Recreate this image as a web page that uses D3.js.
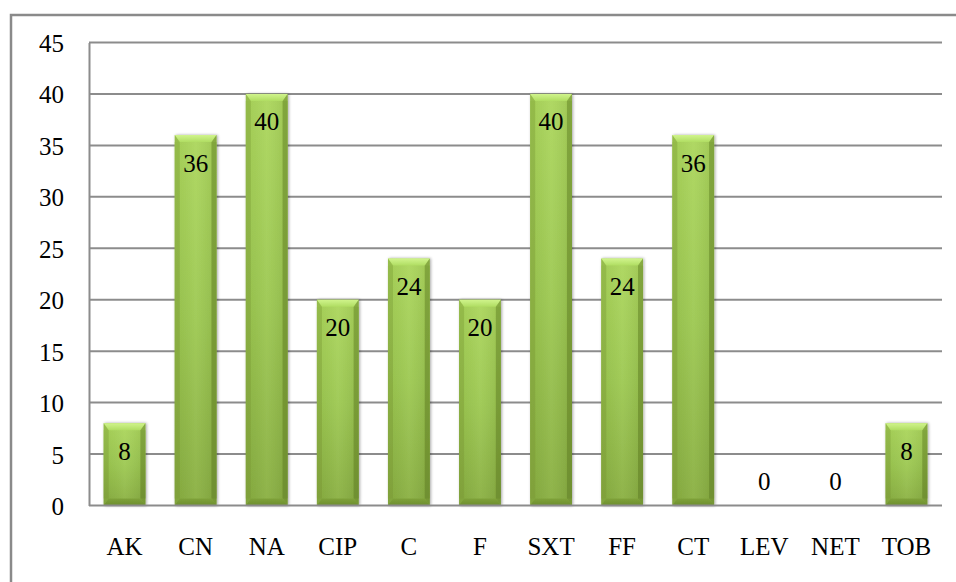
<!DOCTYPE html>
<html>
<head>
<meta charset="utf-8">
<script src="https://cdn.jsdelivr.net/npm/d3@7"></script>
<style>
  html, body { margin: 0; padding: 0; background: #ffffff; }
  svg { display: block; }
  svg text { font-family: "Liberation Serif", "Times New Roman", serif !important; fill: #000; }
</style>
</head>
<body>
<svg id="chart" width="956" height="582"></svg>
<script>
// Category codes along the horizontal axis
const categories = ["AK", "CN", "NA", "CIP", "C", "F", "SXT", "FF", "CT", "LEV", "NET", "TOB"];
// Bar values (also printed inside each bar)
const values = [8, 36, 40, 20, 24, 20, 40, 24, 36, 0, 0, 8];
// Vertical axis ticks
const yTicks = [0, 5, 10, 15, 20, 25, 30, 35, 40, 45];

const FONT = "'Liberation Serif', 'Times New Roman', serif";
const svg = d3.select("#chart");
const plot = { left: 89, right: 942, top: 42.5, bottom: 505.5 };

const x = d3.scaleBand()
  .domain(categories)
  .range([plot.left, plot.right])
  .paddingInner(0.412)
  .paddingOuter(0.206);

const y = d3.scaleLinear()
  .domain([0, 45])
  .range([plot.bottom, plot.top]);

// Gradients for the bevelled bars
const defs = svg.append("defs");
function vGrad(id, stops) {
  const g = defs.append("linearGradient").attr("id", id)
    .attr("x1", 0).attr("y1", 0).attr("x2", 0).attr("y2", 1);
  stops.forEach(([o, c]) => g.append("stop").attr("offset", o).attr("stop-color", c));
}
function hGrad(id, stops) {
  const g = defs.append("linearGradient").attr("id", id)
    .attr("x1", 0).attr("y1", 0).attr("x2", 1).attr("y2", 0);
  stops.forEach(([o, c]) => g.append("stop").attr("offset", o).attr("stop-color", c));
}
vGrad("body", [[0, "#abd65b"], [0.5, "#9cc850"], [1, "#88ae40"]]);
hGrad("bodyShade", [[0, "rgba(0,0,0,0.04)"], [0.5, "rgba(255,255,255,0.06)"], [1, "rgba(0,0,0,0.08)"]]);
vGrad("topBevel", [[0, "#d0f48c"], [1, "#b0dd62"]]);
vGrad("bottomBevel", [[0, "#7fa23a"], [1, "#6d8e2e"]]);
vGrad("leftBevel", [[0, "#9cc750"], [1, "#7f9f39"]]);
vGrad("rightBevel", [[0, "#8fb846"], [1, "#6f8f30"]]);

const shadow = defs.append("filter").attr("id", "barShadow")
  .attr("x", "-20%").attr("y", "-5%").attr("width", "140%").attr("height", "110%");
shadow.append("feGaussianBlur").attr("in", "SourceAlpha").attr("stdDeviation", 1.6).attr("result", "b");
shadow.append("feOffset").attr("in", "b").attr("dx", 1).attr("dy", 0).attr("result", "o");
shadow.append("feComponentTransfer").attr("in", "o").attr("result", "s")
  .append("feFuncA").attr("type", "linear").attr("slope", 0.35);
const merge = shadow.append("feMerge");
merge.append("feMergeNode").attr("in", "s");
merge.append("feMergeNode").attr("in", "SourceGraphic");

// Outer chart frame (runs past the right and bottom edges)
svg.append("rect")
  .attr("x", 11).attr("y", 15)
  .attr("width", 980).attr("height", 620)
  .attr("fill", "none")
  .attr("stroke", "#8a8a8a")
  .attr("stroke-width", 2.5);

// Horizontal gridlines
svg.append("g")
  .selectAll("line")
  .data(yTicks.filter(t => t > 0))
  .join("line")
  .attr("x1", plot.left).attr("x2", plot.right)
  .attr("y1", d => y(d)).attr("y2", d => y(d))
  .attr("stroke", "#8c8c8c")
  .attr("stroke-width", 2);

// Y axis line and tick labels
const yAxis = d3.axisLeft(y).tickValues(yTicks).tickSize(0).tickPadding(25);
const yg = svg.append("g").attr("transform", `translate(${plot.left},0)`).call(yAxis)
  .attr("font-family", FONT).attr("font-size", 25);
yg.select(".domain").attr("stroke", "#8c8c8c").attr("stroke-width", 2);
yg.selectAll("text")
  .attr("font-size", 25)
  .attr("font-family", FONT)
  .attr("dy", "0.36em");

// Bars
const sx = 5, bv = 7;
const bars = svg.append("g").selectAll("g.bar")
  .data(categories.map((c, i) => ({ c, v: values[i] })).filter(d => d.v > 0))
  .join("g")
  .attr("class", "bar")
  .attr("filter", "url(#barShadow)");

bars.each(function(d) {
  const g = d3.select(this);
  const x0 = x(d.c), x1 = x0 + x.bandwidth();
  const yt = y(d.v), yb = y(0);
  const pts = a => a.map(p => p.join(",")).join(" ");
  g.append("rect").attr("x", x0).attr("y", yt).attr("width", x1 - x0).attr("height", yb - yt)
    .attr("fill", "url(#body)");
  g.append("rect").attr("x", x0).attr("y", yt).attr("width", x1 - x0).attr("height", yb - yt)
    .attr("fill", "url(#bodyShade)");
  g.append("polygon").attr("points", pts([[x0, yt + bv], [x0 + sx, yt + bv], [x0 + sx, yb - bv], [x0, yb - bv]]))
    .attr("fill", "url(#leftBevel)").attr("opacity", 0.55);
  g.append("polygon").attr("points", pts([[x1, yt + bv], [x1 - sx, yt + bv], [x1 - sx, yb - bv], [x1, yb - bv]]))
    .attr("fill", "url(#rightBevel)").attr("opacity", 0.7);
  g.append("polygon").attr("points", pts([[x0, yt], [x1, yt], [x1 - sx, yt + bv], [x0 + sx, yt + bv]]))
    .attr("fill", "url(#topBevel)");
  g.append("polygon").attr("points", pts([[x0, yt], [x0 + sx, yt + bv], [x0 + sx, yb - bv], [x0, yb]]))
    .attr("fill", "#7f9f3a").attr("opacity", 0.35);
  g.append("polygon").attr("points", pts([[x1, yt], [x1 - sx, yt + bv], [x1 - sx, yb - bv], [x1, yb]]))
    .attr("fill", "#6a8a2c").attr("opacity", 0.45);
  g.append("polygon").attr("points", pts([[x0, yb], [x1, yb], [x1 - sx, yb - bv], [x0 + sx, yb - bv]]))
    .attr("fill", "url(#bottomBevel)");
});

// Baseline (zero axis)
svg.append("line")
  .attr("x1", plot.left).attr("x2", plot.right)
  .attr("y1", y(0)).attr("y2", y(0))
  .attr("stroke", "#8c8c8c").attr("stroke-width", 2);

// Value labels inside the top of each bar (above the baseline for zeros)
svg.append("g").attr("font-family", FONT).selectAll("text")
  .data(categories.map((c, i) => ({ c, v: values[i] })))
  .join("text")
  .attr("x", d => x(d.c) + x.bandwidth() / 2)
  .attr("y", d => d.v > 0 ? y(d.v) + 36.5 : y(0) - 15.5)
  .attr("text-anchor", "middle")
  .attr("font-family", FONT)
  .attr("font-size", 25)
  .text(d => d.v);

// Category labels
const xAxis = d3.axisBottom(x).tickSize(0).tickPadding(0);
const xg = svg.append("g").attr("transform", `translate(0,${plot.bottom})`).call(xAxis)
  .attr("font-family", FONT).attr("font-size", 25);
xg.select(".domain").remove();
xg.selectAll("text")
  .attr("y", 49)
  .attr("dy", 0)
  .attr("font-size", 25)
  .attr("font-family", FONT);
</script>
</body>
</html>
